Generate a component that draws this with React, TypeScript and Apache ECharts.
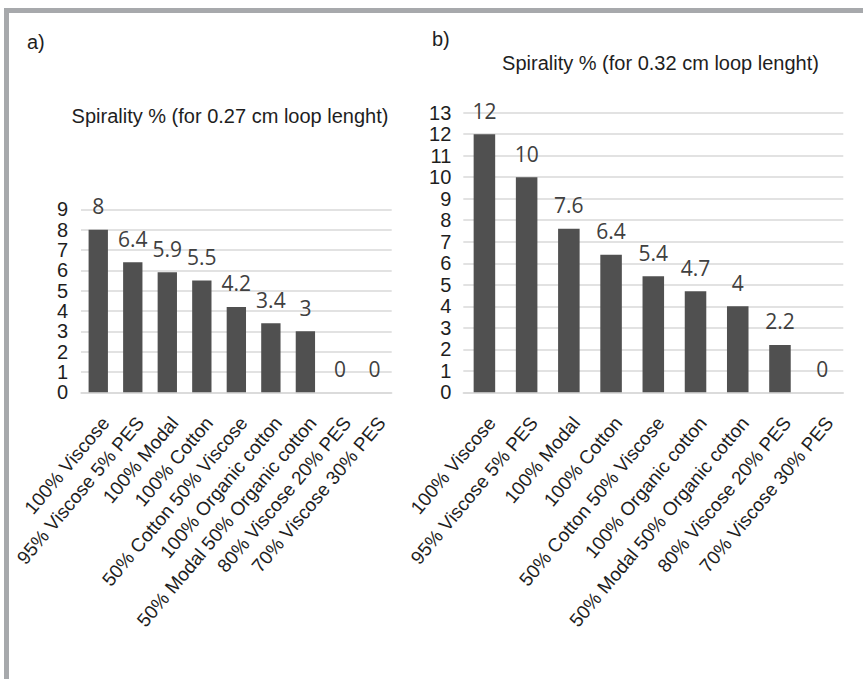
import React, { useEffect, useRef } from "react";
import * as echarts from "echarts";

const categories = [
  "100% Viscose",
  "95% Viscose 5% PES",
  "100% Modal",
  "100% Cotton",
  "50% Cotton 50% Viscose",
  "100% Organic cotton",
  "50% Modal 50% Organic cotton",
  "80% Viscose 20% PES",
  "70% Viscose 30% PES",
];
const spirality027 = [8, 6.4, 5.9, 5.5, 4.2, 3.4, 3, 0, 0];
const spirality032 = [12, 10, 7.6, 6.4, 5.4, 4.7, 4, 2.2, 0];
const titleA = "Spirality % (for 0.27 cm loop lenght)";
const titleB = "Spirality % (for 0.32 cm loop lenght)";

const AXIS_FONT = "'Liberation Sans', Arial, sans-serif";
const LABEL_FONT = "'Open Sans', 'Noto Sans', sans-serif";

export default function App() {
  const ref = useRef<HTMLDivElement>(null);
  useEffect(() => {
    if (!ref.current) return;
    const chart = echarts.init(ref.current, undefined, { renderer: "svg" });
    const yAxisCommon = (max: number, margin: number) => ({
      type: "value" as const,
      min: 0,
      max,
      interval: 1,
      axisLine: { show: false },
      axisTick: { show: false },
      axisLabel: {
        color: "#1e1e1e",
        fontSize: 20,
        fontFamily: AXIS_FONT,
        margin,
      },
      splitLine: { lineStyle: { color: "#d9d9d9", width: 1.5 } },
    });
    const xAxisCommon = {
      type: "category" as const,
      data: categories,
      axisLine: { show: true, lineStyle: { color: "#d9d9d9", width: 1.5 } },
      axisTick: { show: false },
      axisLabel: {
        interval: 0,
        rotate: 50,
        color: "#1e1e1e",
        fontSize: 19,
        fontFamily: AXIS_FONT,
        margin: 21,
        align: "right",
        verticalAlign: "top",
      },
    };
    const seriesLabel = {
      show: true,
      position: "top" as const,
      distance: 13,
      color: "#404040",
      fontSize: 21,
      fontFamily: LABEL_FONT,
      formatter: "{c}",
    };
    chart.setOption({
      animation: false,
      backgroundColor: "#ffffff",
      grid: [
        { left: 81, right: 471.3, top: 209.3, height: 183, containLabel: false },
        { left: 463.3, right: 19.7, top: 112.7, height: 279.6, containLabel: false },
      ],
      xAxis: [
        { ...xAxisCommon, gridIndex: 0 },
        { ...xAxisCommon, gridIndex: 1 },
      ],
      yAxis: [
        { ...yAxisCommon(9, 13), gridIndex: 0 },
        { ...yAxisCommon(13, 12), gridIndex: 1 },
      ],
      series: [
        {
          type: "bar",
          xAxisIndex: 0,
          yAxisIndex: 0,
          data: spirality027,
          barWidth: "56%",
          itemStyle: { color: "#505050" },
          label: seriesLabel,
        },
        {
          type: "bar",
          xAxisIndex: 1,
          yAxisIndex: 1,
          data: spirality032,
          barWidth: "51%",
          itemStyle: { color: "#505050" },
          label: seriesLabel,
        },
      ],
      graphic: [
        { type: "rect", shape: { x: 4, y: 8, width: 859, height: 5 }, style: { fill: "#a7a9ac" } },
        { type: "rect", shape: { x: 4, y: 8, width: 5, height: 671 }, style: { fill: "#a7a9ac" } },
        {
          type: "text",
          x: 27,
          y: 42,
          style: { text: "a)", font: `20px ${AXIS_FONT}`, fill: "#1e1e1e", verticalAlign: "middle" },
        },
        {
          type: "text",
          x: 432,
          y: 39,
          style: { text: "b)", font: `20px ${AXIS_FONT}`, fill: "#1e1e1e", verticalAlign: "middle" },
        },
        {
          type: "text",
          x: 230,
          y: 116,
          style: { text: titleA, font: `20px ${AXIS_FONT}`, fill: "#1e1e1e", align: "center", verticalAlign: "middle" },
        },
        {
          type: "text",
          x: 660.5,
          y: 62.5,
          style: { text: titleB, font: `20px ${AXIS_FONT}`, fill: "#1e1e1e", align: "center", verticalAlign: "middle" },
        },
      ],
    });
    return () => chart.dispose();
  }, []);
  return (
    <div
      ref={ref}
      style={{ position: "fixed", left: 0, top: 0, width: 863, height: 679 }}
    />
  );
}
